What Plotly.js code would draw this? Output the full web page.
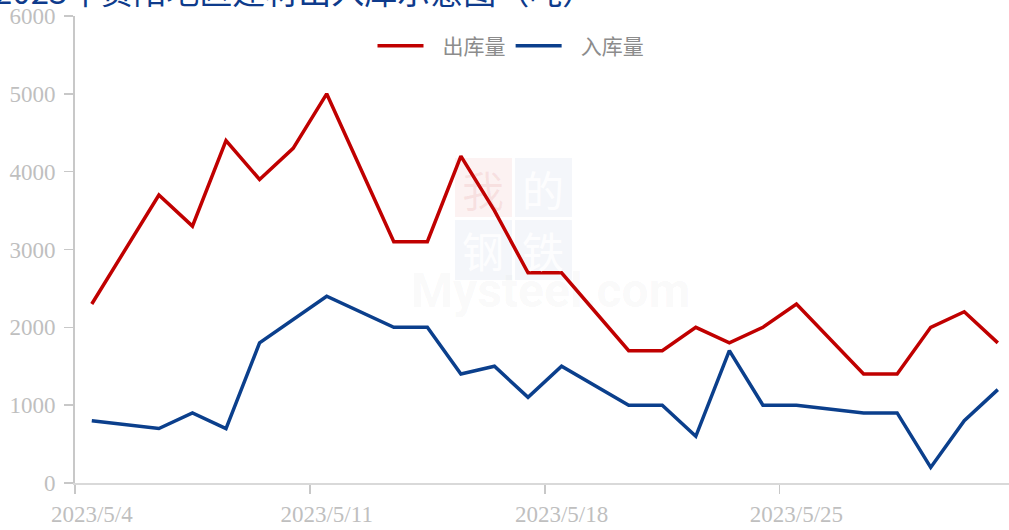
<!DOCTYPE html>
<html>
<head>
<meta charset="utf-8">
<script src="https://cdn.plot.ly/plotly-3.0.1.min.js"></script>
<style>html,body{margin:0;padding:0;background:#fff;}#chart{width:1009px;height:530px;}</style>
</head>
<body>
<div id="chart"></div>
<script>
// Data (dates without a vertex are absent in the source)
const dates = ['2023-05-04','2023-05-06','2023-05-07','2023-05-08','2023-05-09','2023-05-10','2023-05-11',
  '2023-05-13','2023-05-14','2023-05-15','2023-05-16','2023-05-17','2023-05-18',
  '2023-05-20','2023-05-21','2023-05-22','2023-05-23','2023-05-24','2023-05-25',
  '2023-05-27','2023-05-28','2023-05-29','2023-05-30','2023-05-31'];
const outbound = [2300,3700,3300,4400,3900,4300,5000,3100,3100,4200,3500,2700,2700,1700,1700,2000,1800,2000,2300,1400,1400,2000,2200,1800];
const inbound  = [800,700,900,700,1800,2100,2400,2000,2000,1400,1500,1100,1500,1000,1000,600,1700,1000,1000,900,900,200,800,1200];
const seriesNames = ['出库量','入库量'];
const titleText = '2023年贵阳地区建材出入库示意图（吨）';

const axisGray = '#C8C8C8';
const labelGray = '#BFBFBF';
const serif = '"Liberation Serif", "Times New Roman", serif';
const cjk = '"Noto Sans CJK SC", "Noto Sans", sans-serif';
const pad = '\u00a0\u00a0\u00a0';

const traces = [
  {x: dates, y: outbound, name: pad + seriesNames[0], type: 'scatter', mode: 'lines',
   line: {color: '#C00000', width: 3.5}},
  {x: dates, y: inbound, name: pad + seriesNames[1], type: 'scatter', mode: 'lines',
   line: {color: '#0B3F8C', width: 3.5}}
];

const W = 934, H = 467; // plot area size in px (for decoration placement)
function px(xp){ return (xp - 75) / W; }
function py(yp){ return (483 - yp) / H; }

const layout = {
  width: 1009, height: 530,
  margin: {l: 75, r: 0, t: 16, b: 47, pad: 0},
  paper_bgcolor: '#fff', plot_bgcolor: '#fff',
  showlegend: true,
  legend: {orientation: 'h', x: px(511), xanchor: 'center', y: py(46), yanchor: 'middle',
    font: {family: cjk, size: 21, color: '#8C8C8C'}, itemwidth: 46, bgcolor: 'rgba(0,0,0,0)'},
  xaxis: {type: 'date', range: ['2023-05-03 12:00', '2023-05-31 08:00'],
    tick0: '2023-05-04', dtick: 7*86400000, tickformat: '%Y/%-m/%-d',
    ticks: 'outside', ticklen: 9, tickcolor: 'rgba(0,0,0,0)',
    minor: {tick0: '2023-05-03 12:00', dtick: 7*86400000, ticks: 'outside', ticklen: 9,
      tickcolor: axisGray, tickwidth: 1.5, showgrid: false},
    showline: true, linecolor: '#D9D9D9', linewidth: 2, showgrid: false, zeroline: false,
    tickfont: {family: serif, size: 23, color: labelGray}, fixedrange: true},
  yaxis: {range: [0, 6000], dtick: 1000, ticks: 'outside', ticklen: 9, tickcolor: axisGray, tickwidth: 1.5,
    showline: true, linecolor: axisGray, linewidth: 2, showgrid: false, zeroline: false,
    tickfont: {family: serif, size: 23, color: labelGray}, ticklabelstandoff: 4, fixedrange: true},
  shapes: [
    {type: 'rect', xref: 'paper', yref: 'paper', x0: px(455), x1: px(512), y0: py(217), y1: py(158),
     fillcolor: 'rgba(200,40,40,0.06)', line: {width: 0}, layer: 'below'},
    {type: 'rect', xref: 'paper', yref: 'paper', x0: px(515), x1: px(572), y0: py(217), y1: py(158),
     fillcolor: 'rgba(40,70,160,0.05)', line: {width: 0}, layer: 'below'},
    {type: 'rect', xref: 'paper', yref: 'paper', x0: px(455), x1: px(512), y0: py(280), y1: py(220),
     fillcolor: 'rgba(40,70,160,0.05)', line: {width: 0}, layer: 'below'},
    {type: 'rect', xref: 'paper', yref: 'paper', x0: px(515), x1: px(572), y0: py(280), y1: py(220),
     fillcolor: 'rgba(40,70,160,0.05)', line: {width: 0}, layer: 'below'}
  ],
  annotations: [
    {text: titleText, xref: 'paper', yref: 'paper', x: px(-8), xanchor: 'left', y: py(-10), yanchor: 'middle',
     showarrow: false, font: {family: cjk, size: 33, color: '#0E3B8C'}},
    {text: '我', xref: 'paper', yref: 'paper', x: px(483), y: py(188), showarrow: false,
     font: {family: '"Noto Sans CJK SC"', size: 42, color: 'rgba(200,60,60,0.09)'}},
    {text: '的', xref: 'paper', yref: 'paper', x: px(543), y: py(188), showarrow: false,
     font: {family: '"Noto Sans CJK SC"', size: 42, color: 'rgba(255,255,255,0.9)'}},
    {text: '钢', xref: 'paper', yref: 'paper', x: px(483), y: py(249), showarrow: false,
     font: {family: '"Noto Sans CJK SC"', size: 42, color: 'rgba(255,255,255,0.9)'}},
    {text: '铁', xref: 'paper', yref: 'paper', x: px(543), y: py(249), showarrow: false,
     font: {family: '"Noto Sans CJK SC"', size: 42, color: 'rgba(255,255,255,0.9)'}},
    {text: '<b>Mysteel.com</b>', xref: 'paper', yref: 'paper', x: px(550), y: py(290), showarrow: false,
     font: {family: 'Roboto, "Open Sans", sans-serif', size: 48, color: 'rgba(120,120,120,0.05)'}}
  ]
};

Plotly.newPlot('chart', traces, layout, {displayModeBar: false, staticPlot: true});
</script>
</body>
</html>
